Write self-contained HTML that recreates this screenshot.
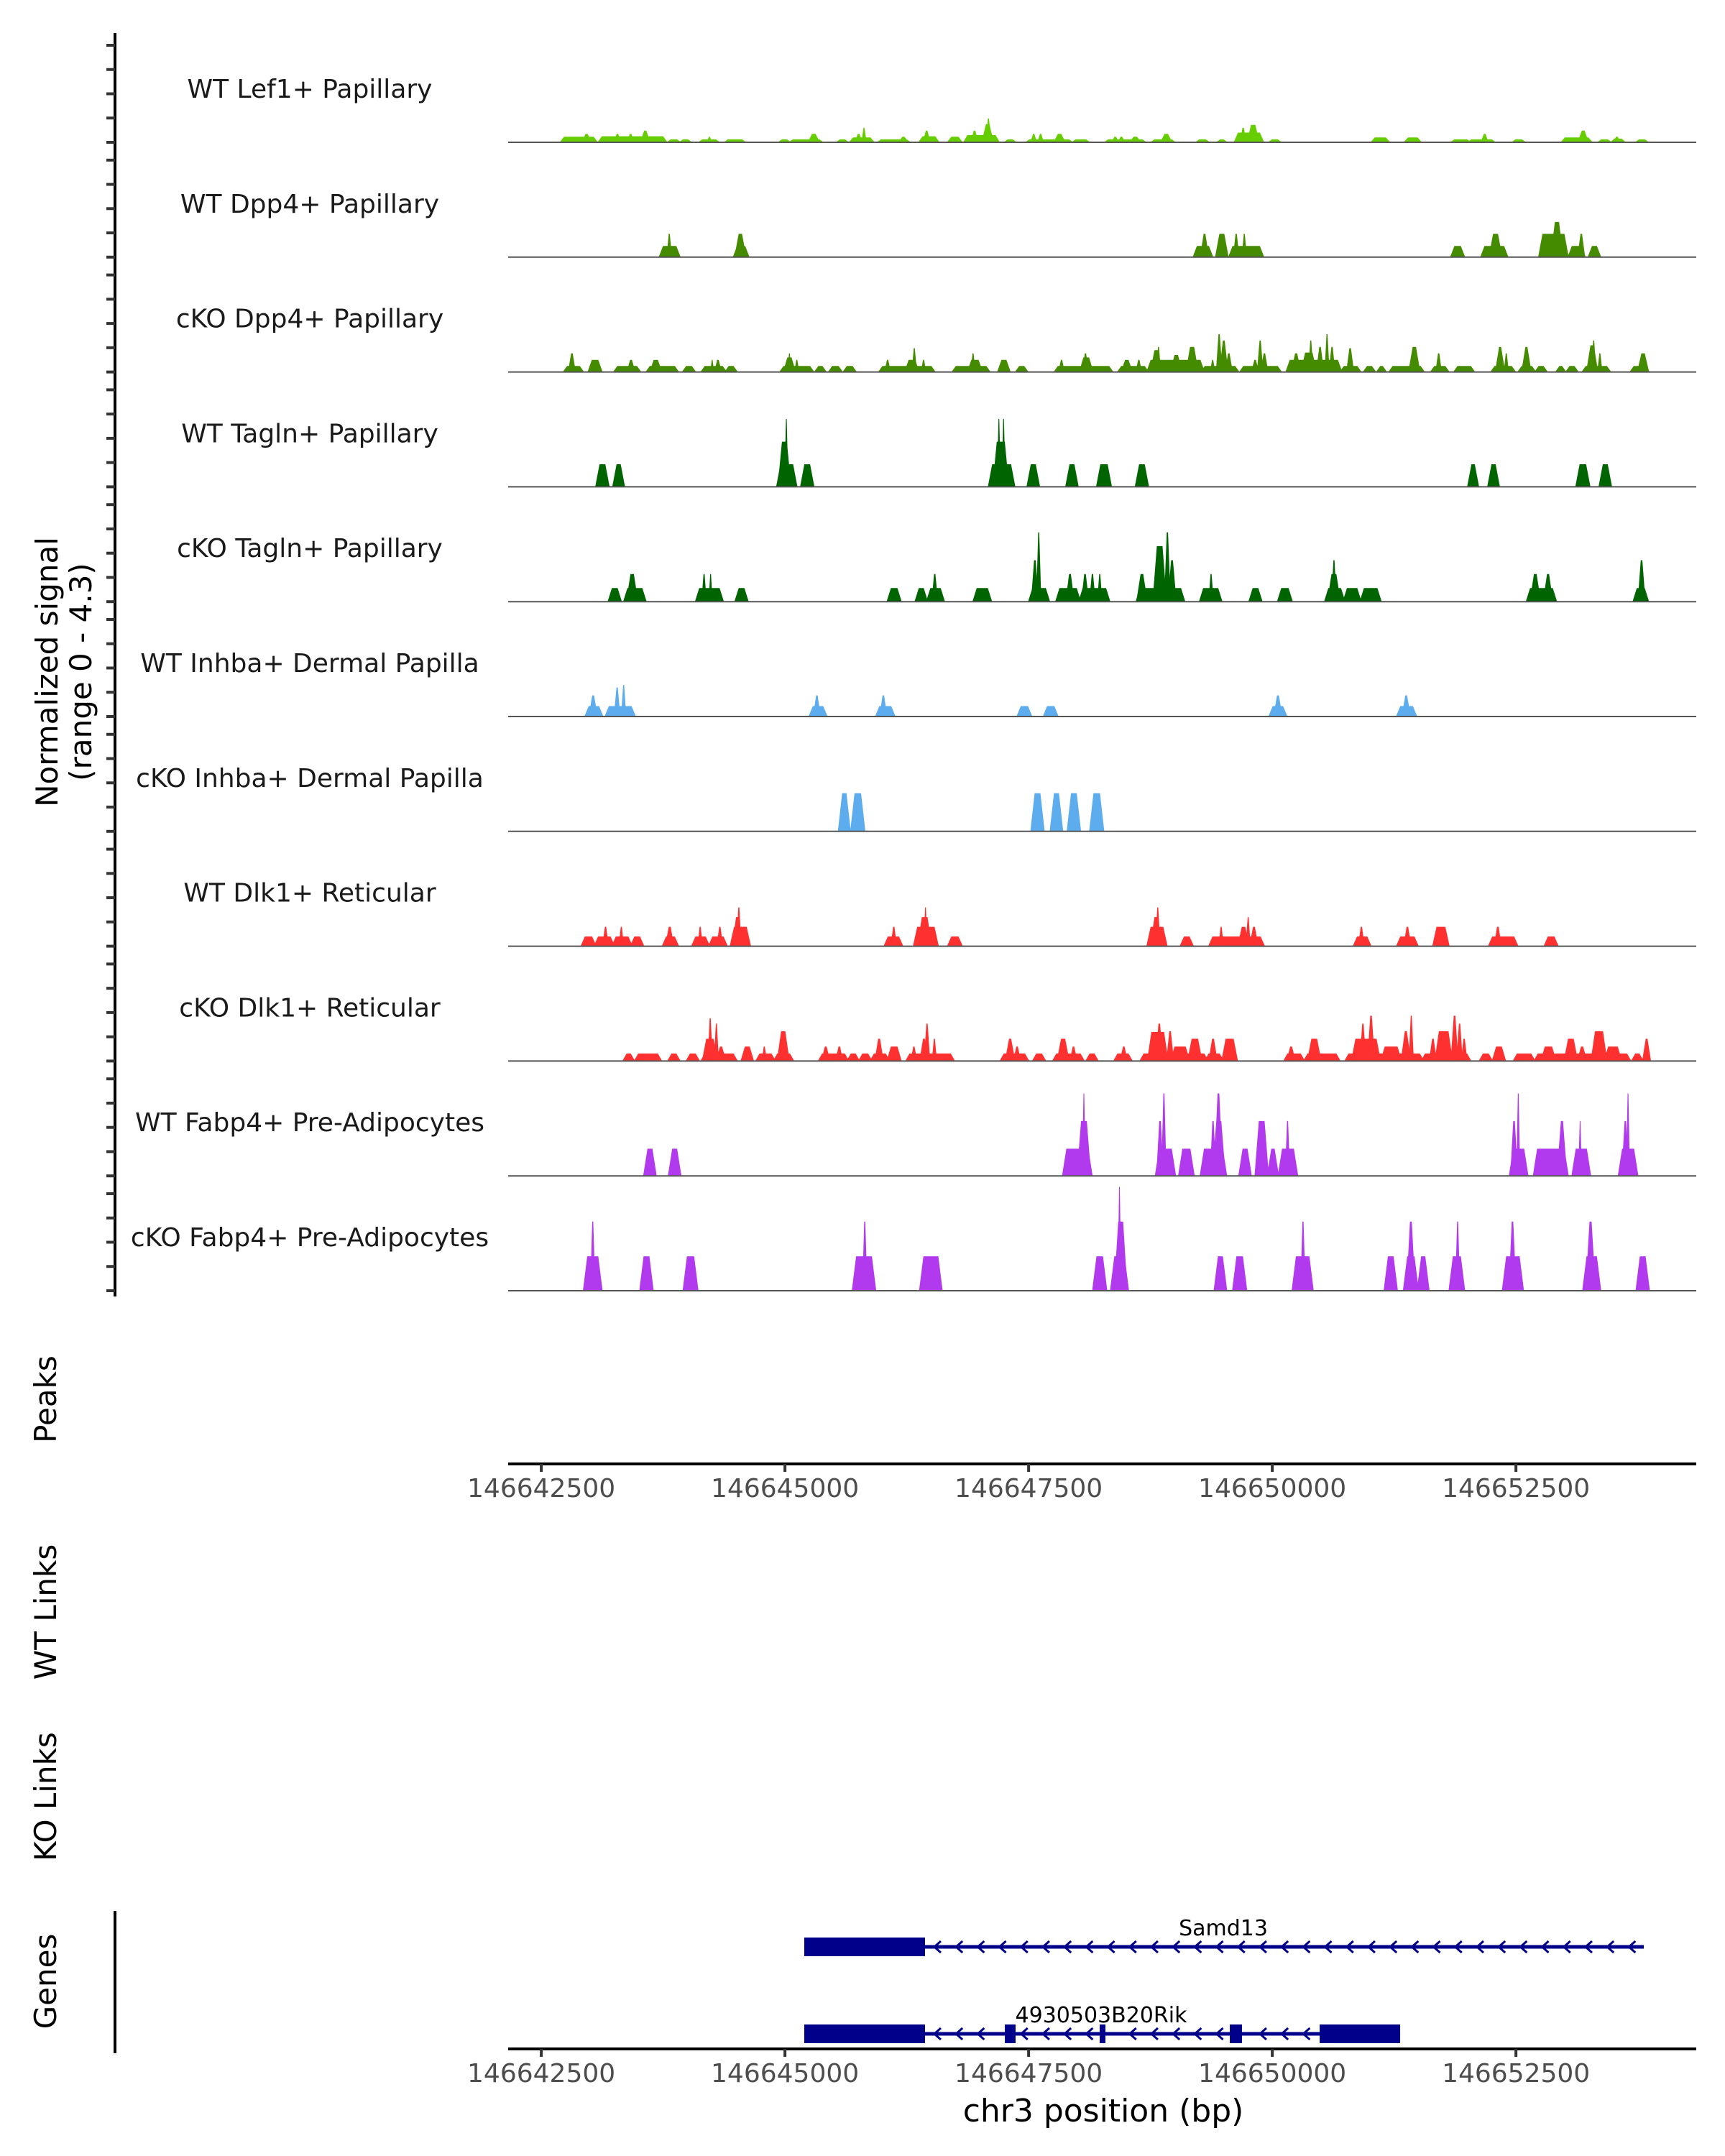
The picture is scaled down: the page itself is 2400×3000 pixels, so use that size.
<!DOCTYPE html>
<html><head><meta charset="utf-8"><title>Coverage plot chr3</title>
<style>
html,body{margin:0;padding:0;background:#fff;}
svg{display:block;font-family:"DejaVu Sans","Liberation Sans",sans-serif;}
</style></head>
<body>
<svg id="chart" xmlns="http://www.w3.org/2000/svg" width="2400" height="3000" viewBox="0 0 2400 3000">
  <rect width="2400" height="3000" fill="#fff"/>
  <g id="tracks"></g>
  <g id="axes"></g>
  <g id="genes"></g>
  <text transform="translate(80,935) rotate(-90)" text-anchor="middle" font-size="42" fill="#000">Normalized signal</text>
  <text transform="translate(127,935) rotate(-90)" text-anchor="middle" font-size="42" fill="#000">(range 0 - 4.3)</text>
  <text transform="translate(78,1947) rotate(-90)" text-anchor="middle" font-size="42" fill="#000">Peaks</text>
  <text transform="translate(78,2243) rotate(-90)" text-anchor="middle" font-size="42" fill="#000">WT Links</text>
  <text transform="translate(78,2500) rotate(-90)" text-anchor="middle" font-size="42" fill="#000">KO Links</text>
  <text transform="translate(78,2757) rotate(-90)" text-anchor="middle" font-size="42" fill="#000">Genes</text>
  <text x="1535" y="2952" text-anchor="middle" font-size="44" fill="#000">chr3 position (bp)</text>
</svg>
<script>
// ---- data ----
const regionStart = 146642160;
const regionEnd = 146654350;
const xTicks = [146642500, 146645000, 146647500, 146650000, 146652500];
const xTickLabels = ["146642500", "146645000", "146647500", "146650000", "146652500"];
const trackNames = ["WT Lef1+ Papillary","WT Dpp4+ Papillary","cKO Dpp4+ Papillary","WT Tagln+ Papillary","cKO Tagln+ Papillary","WT Inhba+ Dermal Papilla","cKO Inhba+ Dermal Papilla","WT Dlk1+ Reticular","cKO Dlk1+ Reticular","WT Fabp4+ Pre-Adipocytes","cKO Fabp4+ Pre-Adipocytes"];
const trackColors = ["#66CD00","#458B00","#458B00","#006400","#006400","#5CACEE","#5CACEE","#FF3030","#FF3030","#B23AEE","#B23AEE"];
const yMax = 4.3;
const yTicks = [0, 1, 2, 3, 4];
// segments: [start offset bp, end offset bp, signal]
const wtLef1 = [[551,900,.23],[773,836,.35],[939,1613,.25],[1098,1145,.35],[1233,1280,.35],[1375,1439,.48],[1645,1756,.12],[1772,1867,.12],[1970,2153,.12],[2049,2081,.23],[2232,2422,.12],[2787,2882,.12],[2898,3215,.12],[3096,3176,.35],[3382,3477,.12],[3517,3739,.2],[3572,3620,.35],[3635,3667,.6],[3802,4111,.12],[4024,4087,.23],[4230,4405,.25],[4270,4317,.48],[4524,4643,.23],[4690,5023,.3],[4761,4809,.48],[4880,4960,.75],[4912,4944,.98],[5103,5198,.12],[5325,5777,.12],[5372,5412,.35],[5443,5483,.35],[5618,5697,.35],[5800,5951,.12],[6133,6530,.12],[6205,6252,.23],[6268,6316,.23],[6395,6474,.23],[6609,6831,.12],[6712,6792,.35],[7069,7180,.12],[7283,7362,.12],[7466,7735,.4],[7521,7561,.6],[7600,7688,.72],[7815,7918,.12],[8869,9028,.2],[9210,9353,.2],[9686,9861,.12],[9861,10114,.12],[9995,10043,.35],[10313,10423,.12],[10820,11106,.2],[10994,11066,.48],[11193,11304,.12],[11328,11447,.15],[11351,11399,.23],[11581,11684,.12]];
const wtDpp4 = [[1566,1748,.46],[1637,1669,.96],[2327,2454,.46],[2343,2422,.96],[7045,7212,.46],[7117,7172,.96],[7275,7370,.96],[7410,7735,.46],[7450,7489,.96],[7537,7569,.96],[9686,9797,.46],[9995,10241,.46],[10083,10178,.96],[10590,10860,.96],[10717,10804,1.45],[10891,11034,.46],[10987,11034,.96],[11098,11193,.46]];
const ckoDpp4 = [[582,757,.25],[630,678,.77],[836,947,.5],[1098,1344,.25],[1233,1288,.5],[1431,1732,.25],[1471,1558,.5],[1804,1907,.25],[1994,2224,.25],[2081,2105,.5],[2129,2176,.5],[2240,2335,.25],[2803,3120,.25],[2842,2930,.6],[2874,2898,.77],[2946,2977,.5],[3160,3247,.25],[3302,3413,.25],[3453,3556,.25],[3818,4365,.25],[3873,3913,.5],[4087,4198,.5],[4151,4183,.98],[4246,4278,.5],[4571,4928,.25],[4730,4849,.5],[4754,4785,.77],[5039,5134,.5],[5221,5317,.25],[5618,6189,.25],[5658,5697,.5],[5880,5983,.6],[5903,5943,.77],[6268,6554,.25],[6308,6387,.5],[6451,6490,.5],[6570,7125,.5],[6609,6688,.9],[6657,6688,1.03],[6815,6895,.7],[6974,7061,1.03],[7125,7482,.25],[7212,7244,.5],[7275,7315,1.56],[7315,7370,1.3],[7370,7418,.77],[7521,7918,.25],[7640,7688,.5],[7696,7735,1.3],[7735,7783,.77],[7997,8536,.5],[8053,8116,.77],[8155,8275,.8],[8219,8251,1.3],[8306,8354,1.03],[8386,8417,1.56],[8433,8473,1.03],[8552,8734,.25],[8615,8663,.98],[8790,8885,.25],[8925,8996,.25],[9052,9385,.25],[9258,9337,1.03],[9480,9638,.25],[9527,9567,.77],[9718,9900,.25],[10098,10320,.25],[10146,10209,1.03],[10225,10257,.77],[10376,10527,.25],[10416,10479,1.03],[10550,10646,.25],[10764,10836,.25],[10868,10963,.25],[11034,11296,.25],[11082,11161,1.1],[11122,11153,1.3],[11185,11217,.77],[11526,11692,.25],[11605,11684,.77]];
const wtTagln = [[915,1019,.93],[1090,1177,.93],[2771,2946,.93],[2787,2882,1.86],[2842,2866,2.8],[3017,3120,.93],[4944,5182,.93],[4991,5118,1.86],[5023,5047,2.8],[5071,5095,2.8],[5340,5436,.93],[5737,5832,.93],[6054,6173,.93],[6451,6554,.93],[9861,9940,.93],[10067,10154,.93],[10971,11082,.93],[11209,11304,.93]];
const ckoTagln = [[1042,1145,.56],[1201,1399,.56],[1233,1312,1.14],[1938,2192,.56],[1994,2026,1.14],[2065,2089,1.14],[2343,2446,.56],[3905,4016,.56],[4191,4286,.56],[4310,4460,.56],[4357,4397,1.14],[4785,4944,.56],[5356,5539,.56],[5380,5428,1.71],[5428,5460,2.86],[5634,5856,.56],[5737,5792,1.14],[5872,6157,.56],[5895,5943,1.14],[5975,6014,1.14],[6054,6086,1.14],[6459,6926,.56],[6467,6538,1.14],[6633,6736,2.29],[6744,6784,2.86],[6784,6839,1.71],[7109,7307,.56],[7196,7228,1.14],[7616,7719,.56],[7910,8029,.56],[8393,8568,.56],[8425,8520,1.14],[8457,8489,1.71],[8584,8734,.56],[8758,8941,.56],[10463,10740,.56],[10503,10574,1.14],[10638,10701,1.14],[11558,11684,.56],[11605,11653,1.71]];
const wtInhba = [[804,955,.43],[844,900,.87],[1011,1288,.43],[1098,1138,1.2],[1169,1201,1.3],[3104,3255,.43],[3144,3191,.87],[3786,3953,.43],[3826,3873,.87],[5237,5356,.43],[5507,5626,.43],[7822,7973,.43],[7870,7926,.87],[9131,9305,.43],[9186,9242,.87]];
const ckoInhba = [[3405,3493,1.57],[3532,3643,1.57],[5380,5483,1.57],[5578,5673,1.57],[5753,5856,1.57],[5983,6094,1.57]];
const wtDlk1 = [[765,884,.4],[900,1074,.4],[979,1019,.8],[1082,1256,.4],[1145,1177,.8],[1272,1375,.4],[1597,1732,.4],[1629,1685,.8],[1899,2049,.4],[1954,1986,.8],[2073,2232,.4],[2152,2192,.8],[2295,2470,.8],[2319,2375,1.2],[2351,2383,1.6],[3873,4032,.4],[3937,3976,.8],[4175,4397,.8],[4222,4325,1.2],[4270,4294,1.6],[4524,4643,.4],[6570,6744,.8],[6609,6688,1.2],[6649,6681,1.6],[6911,7014,.4],[7204,7743,.4],[7299,7331,.8],[7505,7585,.8],[7577,7608,1.2],[7624,7680,.8],[8687,8837,.4],[8734,8774,.8],[9131,9321,.4],[9202,9250,.8],[9503,9638,.8],[10074,10344,.4],[10130,10178,.8],[10645,10757,.4]];
const ckoDlk1 = [[1193,1280,.31],[1312,1558,.31],[1653,1748,.31],[1843,1946,.31],[1994,2335,.31],[2010,2129,.92],[2057,2089,1.77],[2121,2152,1.54],[2152,2216,.6],[2406,2501,.6],[2557,2724,.31],[2612,2644,.6],[2739,2914,.31],[2779,2866,1.23],[3199,3477,.31],[3231,3286,.6],[3374,3421,.6],[3493,3588,.31],[3612,3715,.31],[3731,3897,.31],[3778,3834,.92],[3905,4016,.6],[4096,4563,.31],[4143,4183,.6],[4238,4294,.92],[4278,4317,1.54],[4357,4389,.92],[5063,5325,.31],[5118,5182,.92],[5198,5245,.6],[5396,5499,.31],[5602,5895,.31],[5650,5737,.92],[5777,5824,.6],[5943,6038,.31],[6229,6387,.31],[6292,6340,.6],[6498,7164,.31],[6577,6752,1.2],[6657,6704,1.54],[6768,6815,1.23],[6815,6974,.6],[6990,7101,.92],[7164,7323,.31],[7204,7260,.92],[7339,7466,.92],[7973,8155,.31],[8005,8061,.6],[8179,8520,.31],[8219,8322,.92],[8600,9377,.31],[8671,8932,.92],[8750,8790,1.54],[8830,8877,1.87],[8972,9147,.6],[9179,9242,1.23],[9250,9282,1.87],[9385,9861,.31],[9464,9512,.92],[9527,9670,1.23],[9686,9734,1.87],[9742,9781,1.54],[9789,9829,.92],[9979,10083,.31],[10114,10217,.6],[10328,10519,.31],[10542,11502,.31],[10614,10733,.6],[10852,10955,.92],[10987,11050,.6],[11129,11256,1.23],[11264,11407,.6],[11542,11629,.31],[11653,11708,.92]];
const wtFabp4 = [[1407,1502,1.12],[1661,1756,1.12],[5705,5975,1.12],[5856,5959,2.26],[5895,5919,3.4],[6657,6831,1.12],[6665,6712,2.26],[6712,6744,3.4],[6895,7022,1.12],[7117,7355,1.12],[7212,7252,2.26],[7244,7339,2.26],[7260,7315,3.4],[7513,7608,1.12],[7680,7783,2.26],[7807,7886,1.12],[7918,8084,1.12],[7981,8013,2.26],[10289,10447,1.12],[10297,10344,2.26],[10352,10376,3.4],[10535,10860,1.12],[10780,10844,2.26],[10931,11090,1.12],[10987,11010,2.26],[11407,11574,1.12],[11439,11486,2.26],[11478,11502,3.4]];
const ckoFabp4 = [[789,947,1.42],[852,884,2.85],[1367,1471,1.42],[1812,1931,1.42],[3548,3754,1.42],[3643,3675,2.85],[4238,4436,1.42],[6014,6125,1.42],[6197,6348,1.42],[6237,6332,2.85],[6260,6284,4.28],[7260,7355,1.42],[7450,7561,1.42],[8060,8243,1.42],[8139,8171,2.85],[9004,9107,1.42],[9202,9321,1.42],[9234,9290,2.85],[9345,9432,1.42],[9670,9797,1.42],[9726,9757,2.85],[10217,10400,1.42],[10281,10328,2.85],[11042,11193,1.42],[11074,11137,2.85],[11589,11692,1.42]];
const trackData = [wtLef1, wtDpp4, ckoDpp4, wtTagln, ckoTagln, wtInhba, ckoInhba, wtDlk1, ckoDlk1, wtFabp4, ckoFabp4];
const geneNames = ["Samd13", "4930503B20Rik"];
const geneSpans = [[146645198, 146653812], [146645198, 146651312]];
const geneExons = [
  [[146645198, 146646437]],
  [[146645198, 146646437], [146647256, 146647366], [146648229, 146648288], [146649564, 146649689], [146650486, 146651312]]
];

// ---- scales / layout ----
const NS = "http://www.w3.org/2000/svg";
const plotL = 707, plotR = 2360;
function xScale(bp){ return plotL + (bp - regionStart) / (regionEnd - regionStart) * (plotR - plotL); }
const firstBase = 198, trackStep = 159.8, unitPx = 33.75;
function yScale(v, i){ return firstBase + i * trackStep - v * unitPx; }
function mk(tag, attrs, parent){
  const el = document.createElementNS(NS, tag);
  for (const k in attrs) el.setAttribute(k, attrs[k]);
  parent.appendChild(el);
  return el;
}
const gT = document.getElementById('tracks');
const gA = document.getElementById('axes');
const gG = document.getElementById('genes');

const yAxisLine = mk('line', {x1:160, y1:46, x2:160, y2:1804, stroke:'#000', 'stroke-width':4}, gA);



trackData.forEach((segs, i) => {
  const base = yScale(0, i);
  const g = mk('g', {}, gT);
  
  
  yTicks.forEach(t => {
    const tk = mk('line', {x1:148, x2:160, y1:yScale(t, i), y2:yScale(t, i), stroke:'#333', 'stroke-width':4}, gA);
    
    
  });
  const lab = mk('text', {x:431, y:base - 62, 'text-anchor':'middle', 'font-size':36, fill:'#1a1a1a'}, g);
  lab.textContent = trackNames[i];
  
  
  segs.forEach(s => {
    const x1 = xScale(regionStart + s[0]), x2 = xScale(regionStart + s[1]);
    const top = yScale(s[2], i);
    const tp = Math.min(3, (x2 - x1) / 3);
    const pts = [[x1 - tp, base], [x1 + tp, top], [x2 - tp, top], [x2 + tp, base]].map(p => p[0].toFixed(1) + ',' + p[1].toFixed(1)).join(' ');
    const poly = mk('polygon', {points: pts, fill: trackColors[i]}, g);
    
    
  });
  const bl = mk('line', {x1:plotL, x2:plotR, y1:base, y2:base, stroke:'#555', 'stroke-width':2}, g);
  
  
});

function drawXAxis(y, name, labelY){
  const ax = mk('line', {x1:plotL, x2:plotR, y1:y, y2:y, stroke:'#000', 'stroke-width':4}, gA);
  
  
  xTicks.forEach((t, k) => {
    const x = xScale(t);
    const tk = mk('line', {x1:x, x2:x, y1:y, y2:y + 11, stroke:'#333', 'stroke-width':4}, gA);
    
    
    const tl = mk('text', {x:x, y:labelY, 'text-anchor':'middle', 'font-size':36, fill:'#4d4d4d'}, gA);
    tl.textContent = xTickLabels[k];
    
    
  });
}
drawXAxis(2037, 'peaks-x-axis', 2083);
drawXAxis(2851, 'genes-x-axis', 2897);

const gAx = mk('line', {x1:160, x2:160, y1:2659, y2:2857, stroke:'#000', 'stroke-width':4}, gA);


const geneY = [2709, 2830];
const geneLabelX = [1702, 1532];
geneNames.forEach((nm, gi) => {
  const y = geneY[gi];
  const g = mk('g', {}, gG);
  
  
  const x1 = xScale(geneSpans[gi][0]), x2 = xScale(geneSpans[gi][1]);
  const ln = mk('line', {x1:x1, x2:x2, y1:y, y2:y, stroke:'#00008B', 'stroke-width':5}, g);
  
  
  const exX = geneExons[gi].map(e => [xScale(e[0]), xScale(e[1])]);
  for (let x = x1 + 185; x < x2 - 8; x += 30.2) {
    if (exX.some(e => x > e[0] - 10 && x < e[1] + 10)) continue;
    const ch = mk('polyline', {points:(x + 5) + ',' + (y - 8) + ' ' + (x - 4) + ',' + y + ' ' + (x + 5) + ',' + (y + 8), fill:'none', stroke:'#00008B', 'stroke-width':3}, g);
    
    
  }
  exX.forEach(e => {
    const r = mk('rect', {x:e[0], y:y - 13, width:Math.max(4, e[1] - e[0]), height:26, fill:'#00008B'}, g);
    
    
  });
  const t = mk('text', {x:geneLabelX[gi], y:y - 16, 'text-anchor':'middle', 'font-size':30, fill:'#000'}, g);
  t.textContent = nm;
  
  
});
</script>
</body></html>
